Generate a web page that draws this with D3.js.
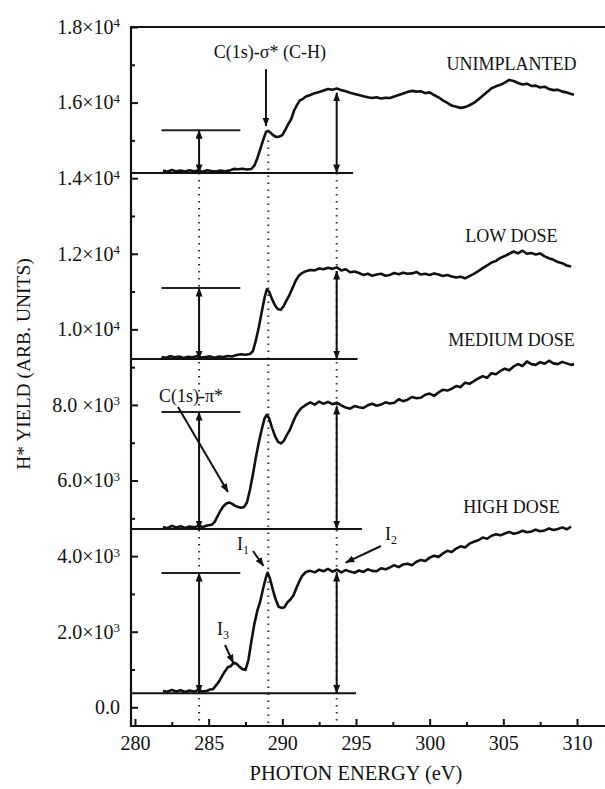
<!DOCTYPE html>
<html>
<head>
<meta charset="utf-8">
<script src="https://cdn.jsdelivr.net/npm/d3@7"></script>
<style>
body { margin: 0; background: #fff; }
svg text { font-family: "Liberation Serif", "Times New Roman", serif; fill: #111; }
</style>
</head>
<body>
<svg id="chart" width="605" height="789"></svg>
<script>
// H* desorption yield spectra, [photon energy (eV), yield]
var unimplanted = [[281.9,14200],[282.2,14170],[282.5,14215],[282.8,14180],[283.1,14205],[283.4,14175],[283.7,14210],[284.0,14185],[284.3,14200],[284.6,14170],[284.9,14210],[285.2,14190],[285.5,14175],[285.8,14205],[286.1,14185],[286.4,14200],[286.7,14245],[287.0,14235],[287.3,14250],[287.6,14230],[287.9,14245],[288.1,14330],[288.3,14520],[288.5,14760],[288.7,15010],[288.9,15230],[289.05,15250],[289.2,15200],[289.4,15130],[289.6,15090],[289.8,15100],[290.0,15140],[290.2,15280],[290.4,15430],[290.6,15560],[290.8,15790],[291.0,15940],[291.2,16060],[291.4,16100],[291.6,16160],[291.9,16200],[292.2,16250],[292.5,16280],[292.8,16320],[293.1,16360],[293.4,16340],[293.7,16370],[294.0,16330],[294.3,16300],[294.6,16260],[294.9,16230],[295.2,16200],[295.5,16170],[295.8,16140],[296.1,16120],[296.4,16140],[296.7,16110],[297.0,16130],[297.3,16120],[297.6,16160],[297.9,16200],[298.2,16240],[298.5,16280],[298.8,16310],[299.1,16290],[299.4,16300],[299.7,16250],[300.0,16270],[300.3,16200],[300.6,16140],[300.9,16060],[301.2,15990],[301.5,15920],[301.8,15890],[302.1,15860],[302.4,15880],[302.7,15930],[303.0,15990],[303.3,16080],[303.6,16180],[303.9,16280],[304.2,16380],[304.5,16430],[304.8,16470],[305.1,16530],[305.4,16600],[305.7,16570],[306.0,16520],[306.3,16480],[306.6,16500],[306.9,16440],[307.2,16450],[307.5,16400],[307.8,16420],[308.1,16360],[308.4,16330],[308.7,16340],[309.0,16290],[309.3,16270],[309.6,16230],[309.8,16210]];

var lowDose = [[281.8,9270],[282.1,9250],[282.4,9290],[282.7,9260],[283.0,9280],[283.3,9245],[283.6,9275],[283.9,9260],[284.2,9290],[284.5,9255],[284.8,9270],[285.1,9285],[285.4,9250],[285.7,9280],[286.0,9265],[286.3,9295],[286.6,9280],[286.9,9320],[287.2,9340],[287.5,9330],[287.8,9350],[288.0,9420],[288.2,9700],[288.4,10050],[288.6,10450],[288.8,10850],[288.95,11060],[289.1,11000],[289.3,10800],[289.5,10640],[289.7,10530],[289.9,10520],[290.1,10620],[290.3,10780],[290.5,10920],[290.7,11100],[290.9,11280],[291.1,11410],[291.3,11480],[291.6,11540],[291.9,11570],[292.2,11560],[292.5,11610],[292.8,11590],[293.1,11630],[293.4,11600],[293.7,11640],[294.0,11560],[294.3,11590],[294.6,11510],[294.9,11530],[295.2,11490],[295.5,11440],[295.8,11470],[296.1,11420],[296.4,11450],[296.7,11470],[297.0,11420],[297.3,11440],[297.6,11490],[297.9,11460],[298.2,11500],[298.5,11470],[298.8,11480],[299.1,11520],[299.4,11450],[299.7,11470],[300.0,11440],[300.3,11480],[300.6,11450],[300.9,11410],[301.2,11440],[301.5,11400],[301.8,11370],[302.1,11390],[302.4,11350],[302.7,11410],[303.0,11470],[303.3,11540],[303.6,11620],[303.9,11690],[304.2,11770],[304.5,11810],[304.8,11890],[305.1,11940],[305.4,12000],[305.7,12060],[306.0,12010],[306.3,12080],[306.6,12000],[306.9,12020],[307.2,11980],[307.5,12010],[307.8,11930],[308.1,11880],[308.4,11840],[308.7,11780],[309.0,11750],[309.3,11690],[309.6,11660]];

var mediumDose = [[281.9,4770],[282.2,4740],[282.5,4800],[282.8,4755],[283.1,4790],[283.4,4745],[283.7,4785],[284.0,4760],[284.3,4800],[284.6,4770],[284.9,4810],[285.2,4830],[285.4,4900],[285.6,5050],[285.8,5200],[286.0,5320],[286.2,5390],[286.4,5420],[286.6,5380],[286.8,5330],[287.0,5300],[287.2,5280],[287.4,5300],[287.6,5420],[287.8,5750],[288.0,6150],[288.2,6600],[288.4,7000],[288.6,7350],[288.8,7650],[288.95,7740],[289.1,7650],[289.3,7400],[289.5,7180],[289.7,7030],[289.9,6980],[290.1,7050],[290.3,7200],[290.5,7330],[290.7,7520],[290.9,7700],[291.1,7830],[291.3,7920],[291.6,8000],[291.9,8070],[292.2,8010],[292.5,8090],[292.8,8030],[293.1,8080],[293.4,8020],[293.7,8060],[294.0,7990],[294.3,7930],[294.6,7900],[294.9,7970],[295.2,7940],[295.5,7920],[295.8,7990],[296.1,8030],[296.4,7980],[296.7,8010],[297.0,8070],[297.3,8040],[297.6,8060],[297.9,8150],[298.2,8100],[298.5,8140],[298.8,8210],[299.1,8180],[299.4,8190],[299.7,8270],[300.0,8300],[300.3,8240],[300.6,8330],[300.9,8400],[301.2,8380],[301.5,8430],[301.8,8500],[302.1,8470],[302.4,8590],[302.7,8560],[303.0,8630],[303.3,8700],[303.6,8760],[303.9,8720],[304.2,8840],[304.5,8810],[304.8,8900],[305.1,8960],[305.4,8920],[305.7,9020],[306.0,9080],[306.3,9030],[306.6,9150],[306.9,9080],[307.2,9060],[307.5,9130],[307.8,9090],[308.1,9170],[308.4,9100],[308.7,9080],[309.0,9140],[309.3,9100],[309.6,9060],[309.8,9080]];

var highDose = [[281.9,430],[282.2,410],[282.5,460],[282.8,420],[283.1,450],[283.4,405],[283.7,445],[284.0,415],[284.3,455],[284.6,420],[284.9,440],[285.1,470],[285.3,480],[285.5,580],[285.7,680],[285.9,820],[286.1,950],[286.3,1060],[286.5,1090],[286.7,1180],[286.9,1150],[287.1,1070],[287.3,1010],[287.5,990],[287.7,1250],[287.9,1750],[288.1,2200],[288.3,2550],[288.5,2800],[288.7,3150],[288.9,3450],[289.0,3560],[289.15,3420],[289.35,3120],[289.55,2850],[289.75,2660],[289.95,2630],[290.15,2650],[290.35,2780],[290.55,2850],[290.75,2960],[290.95,3150],[291.15,3330],[291.35,3480],[291.6,3580],[291.9,3610],[292.2,3570],[292.5,3640],[292.8,3600],[293.1,3660],[293.4,3590],[293.7,3640],[294.0,3570],[294.3,3630],[294.6,3590],[294.9,3560],[295.2,3620],[295.5,3580],[295.8,3650],[296.1,3610],[296.4,3600],[296.7,3680],[297.0,3650],[297.3,3700],[297.6,3760],[297.9,3710],[298.2,3780],[298.5,3800],[298.8,3760],[299.1,3850],[299.4,3900],[299.7,3870],[300.0,3960],[300.3,4010],[300.6,3980],[300.9,4070],[301.2,4140],[301.5,4110],[301.8,4200],[302.1,4260],[302.4,4230],[302.7,4330],[303.0,4380],[303.3,4420],[303.6,4490],[303.9,4460],[304.2,4540],[304.5,4580],[304.8,4550],[305.1,4600],[305.4,4640],[305.7,4590],[306.0,4620],[306.3,4670],[306.6,4630],[306.9,4650],[307.2,4700],[307.5,4660],[307.8,4680],[308.1,4730],[308.4,4690],[308.7,4720],[309.0,4760],[309.3,4710],[309.6,4780]];

var spectrumNames = ["UNIMPLANTED", "LOW DOSE", "MEDIUM DOSE", "HIGH DOSE"];
var baseLevels = [14140, 9214, 4717, 370];     // pre-edge background
var peakLevels = [15270, 11093, 7812, 3553];   // I1, C-H resonance height
var edgeLevels = [16340, 11622, 8050, 3632];   // I2, yield at 293.7 eV
var markerEnergies = [284.35, 289.05, 293.69]; // dotted guide lines

var xTicks = [280, 285, 290, 295, 300, 305, 310];
var xMinor = [282.5, 287.5, 292.5, 297.5, 302.5, 307.5];
var yTicks = [0, 2000, 4000, 6000, 8000, 10000, 12000, 14000, 16000, 18000];
var yMinor = [1000, 3000, 5000, 7000, 9000, 11000, 13000, 15000, 17000];
var yTickMant = ["0.0", "2.0\u00d710", "4.0\u00d710", "6.0\u00d710", "8.0 \u00d710", "1.0\u00d710", "1.2\u00d710", "1.4\u00d710", "1.6\u00d710", "1.8\u00d710"];
var yTickExp = ["", "3", "3", "3", "3", "4", "4", "4", "4", "4"];

var spectra = [unimplanted, lowDose, mediumDose, highDose];

function draw() {
    var svg = d3.select("#chart");
    var plotLeft = 131, plotRight = 605, plotTop = 27, plotBottom = 726;

    var x = d3.scaleLinear().domain([279.73, 311.9]).range([plotLeft, plotRight]);
    var y = d3.scaleLinear().domain([-495, 18000]).range([plotBottom, plotTop]);

    // arrow heads
    svg.append("defs").append("marker")
        .attr("id", "head")
        .attr("viewBox", "0 0 9 7")
        .attr("refX", 8.5).attr("refY", 3.5)
        .attr("markerWidth", 9).attr("markerHeight", 7)
        .attr("markerUnits", "userSpaceOnUse")
        .attr("orient", "auto-start-reverse")
        .append("path").attr("d", "M0,0 L9,3.5 L0,7 z").attr("fill", "#111");

    // axes, ticks point into the plot
    svg.append("g").attr("transform", "translate(0," + plotBottom + ")")
        .call(d3.axisBottom(x).tickValues(xTicks).tickSizeInner(-7).tickSizeOuter(0).tickPadding(10));
    svg.append("g").attr("transform", "translate(0," + plotBottom + ")")
        .call(d3.axisBottom(x).tickValues(xMinor).tickSizeInner(-4).tickSizeOuter(0).tickFormat(""));
    var yAxis = svg.append("g").attr("transform", "translate(" + plotLeft + ",0)")
        .call(d3.axisLeft(y).tickValues(yTicks).tickSizeInner(-7).tickSizeOuter(0).tickPadding(11));
    svg.append("g").attr("transform", "translate(" + plotLeft + ",0)")
        .call(d3.axisLeft(y).tickValues(yMinor).tickSizeInner(-4).tickSizeOuter(0).tickFormat(""));

    svg.selectAll(".domain").remove();
    svg.selectAll(".tick line").attr("stroke", "#111").attr("stroke-width", 2);
    svg.selectAll(".tick text").style("font-size", "20px").attr("fill", "#111");

    yAxis.selectAll(".tick text").each(function (d, i) {
        var t = d3.select(this).text(yTickMant[i]);
        if (yTickExp[i]) {
            t.append("tspan").attr("dy", "-0.5em").style("font-size", "13px").text(yTickExp[i]);
        }
    });

    // frame (right side runs off the page)
    svg.append("path")
        .attr("d", "M" + plotRight + "," + plotTop + "H" + plotLeft + "V" + plotBottom + "H" + plotRight)
        .attr("fill", "none").attr("stroke", "#111").attr("stroke-width", 2.2);

    // dotted guides
    svg.selectAll(".guide").data(markerEnergies).enter().append("line")
        .attr("class", "guide")
        .attr("x1", function (d) { return x(d); }).attr("x2", function (d) { return x(d); })
        .attr("y1", function (d, i) { return y(i === 1 ? 15000 : baseLevels[0]); })
        .attr("y2", plotBottom)
        .attr("stroke", "#333").attr("stroke-width", 2)
        .attr("stroke-dasharray", "1.6,5.4");

    // background and reference levels
    var baseEnds = [294.8, 295.1, 295.4, 295.0];
    svg.selectAll(".base").data(baseLevels).enter().append("line")
        .attr("class", "base")
        .attr("x1", plotLeft).attr("x2", function (d, i) { return x(baseEnds[i]); })
        .attr("y1", function (d) { return y(d); }).attr("y2", function (d) { return y(d); })
        .attr("stroke", "#111").attr("stroke-width", 2);
    svg.selectAll(".ref").data(peakLevels).enter().append("line")
        .attr("class", "ref")
        .attr("x1", x(281.8)).attr("x2", x(287.15))
        .attr("y1", function (d) { return y(d); }).attr("y2", function (d) { return y(d); })
        .attr("stroke", "#222").attr("stroke-width", 2);

    // I1 and I2 double arrows
    peakLevels.forEach(function (d, i) {
        svg.append("line")
            .attr("x1", x(markerEnergies[0])).attr("x2", x(markerEnergies[0]))
            .attr("y1", y(d)).attr("y2", y(baseLevels[i]))
            .attr("stroke", "#111").attr("stroke-width", 2)
            .attr("marker-start", "url(#head)").attr("marker-end", "url(#head)");
    });
    edgeLevels.forEach(function (d, i) {
        svg.append("line")
            .attr("x1", x(markerEnergies[2])).attr("x2", x(markerEnergies[2]))
            .attr("y1", y(d) + 3).attr("y2", y(baseLevels[i]))
            .attr("stroke", "#111").attr("stroke-width", 2)
            .attr("marker-start", "url(#head)").attr("marker-end", "url(#head)");
    });

    // spectra
    var line = d3.line().x(function (d) { return x(d[0]); }).y(function (d) { return y(d[1]); });
    svg.selectAll(".spectrum").data(spectra).enter().append("path")
        .attr("class", "spectrum")
        .attr("d", line)
        .attr("fill", "none").attr("stroke", "#111")
        .attr("stroke-width", 2.6).attr("stroke-linejoin", "round");

    // curve names
    var nameLevels = [16863, 12312, 9558, 5140];
    svg.selectAll(".name").data(spectrumNames).enter().append("text")
        .attr("class", "name")
        .attr("x", x(305.55)).attr("y", function (d, i) { return y(nameLevels[i]); })
        .attr("text-anchor", "middle").style("font-size", "18px")
        .text(function (d) { return d; });

    // annotations
    function arrow(x1, y1, x2, y2) {
        svg.append("line")
            .attr("x1", x(x1)).attr("y1", y(y1)).attr("x2", x(x2)).attr("y2", y(y2))
            .attr("stroke", "#111").attr("stroke-width", 2)
            .attr("marker-end", "url(#head)");
    }
    function label(ex, yv, main, sub, anchor) {
        var t = svg.append("text").attr("x", x(ex)).attr("y", y(yv))
            .attr("text-anchor", anchor || "start").style("font-size", "18px").text(main);
        if (sub) t.append("tspan").attr("dy", "0.3em").style("font-size", "12px").text(sub);
    }

    label(289.16, 17177, "C(1s)-\u03c3* (C-H)", null, "middle");
    arrow(288.89, 16886, 288.89, 15380);
    label(283.8, 8077, "C(1s)-\u03c0*", null, "middle");
    arrow(282.92, 7944, 286.31, 5696);
    label(286.92, 4161, "I", "1");
    arrow(288.01, 4135, 288.72, 3740);
    label(296.97, 4426, "I", "2");
    arrow(296.70, 4267, 294.30, 3830);
    label(285.57, 1913, "I", "3");
    arrow(286.11, 1648, 286.68, 1170);

    // axis titles
    svg.append("text")
        .attr("x", x(295)).attr("y", 780)
        .attr("text-anchor", "middle").style("font-size", "20.5px")
        .text("PHOTON ENERGY (eV)");
    svg.append("text")
        .attr("transform", "translate(30,364) rotate(-90)")
        .attr("text-anchor", "middle").style("font-size", "19.5px")
        .text("H* YIELD (ARB. UNITS)");
}

draw();
</script>
</body>
</html>
